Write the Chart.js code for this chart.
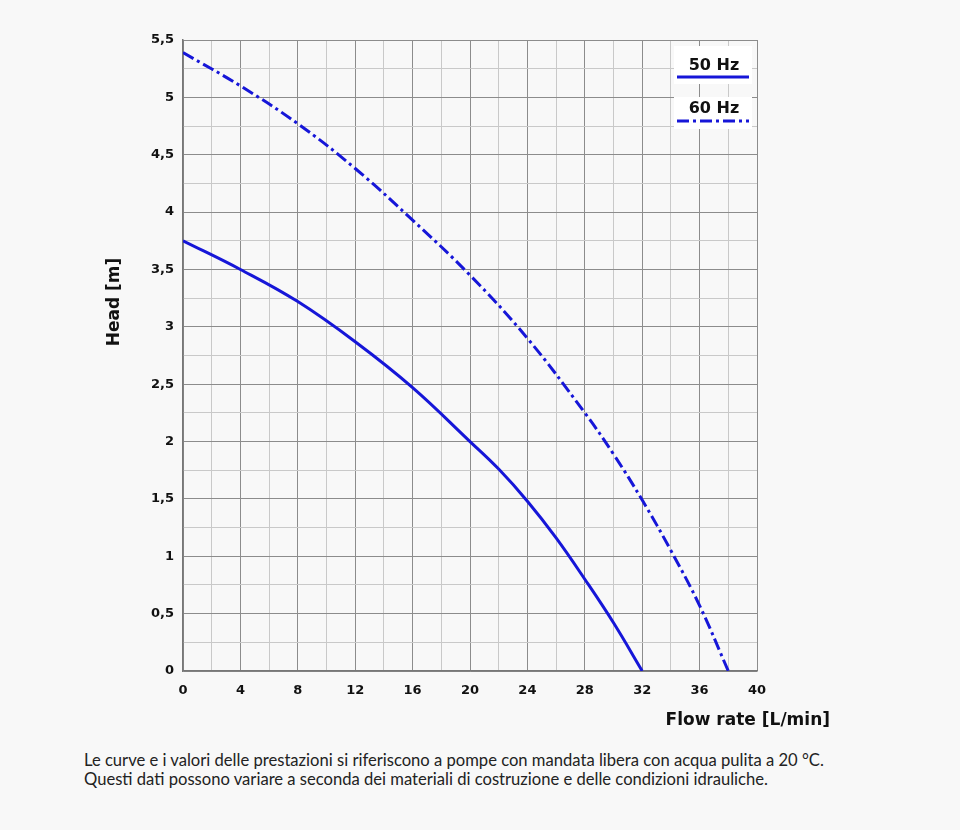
<!DOCTYPE html>
<html>
<head>
<meta charset="utf-8">
<script src="https://cdn.jsdelivr.net/npm/chart.js@4.4.1/dist/chart.umd.min.js"></script>
<style>
  body { margin: 0; background: #f8f8f8; }
  #wrap { position: absolute; left: 0; top: 0; width: 960px; height: 740px; }
  #note { position: absolute; left: 84px; top: 751px; font-family: Lato, sans-serif; font-size: 16.6px; color: #222; line-height: 19px; }
</style>
</head>
<body>
<div id="wrap"><canvas id="pumpChart"></canvas></div>
<div id="note">Le curve e i valori delle prestazioni si riferiscono a pompe con mandata libera con acqua pulita a 20 °C.<br>Questi dati possono variare a seconda dei materiali di costruzione e delle condizioni idrauliche.</div>
<script>
// portata (L/min) e prevalenza (m)
const flow50 = [0, 4, 8, 12, 16, 20, 22, 24, 26, 28, 30, 32];
const head50 = [3.75, 3.5, 3.22, 2.87, 2.47, 2.0, 1.76, 1.48, 1.16, 0.8, 0.42, 0];
const flow60 = [0, 4, 8, 12, 16, 20, 24, 28, 30, 32, 34, 36, 38];
const head60 = [5.39, 5.1, 4.77, 4.38, 3.93, 3.45, 2.9, 2.25, 1.89, 1.49, 1.05, 0.57, 0];
const seriesLabels = ['50 Hz', '60 Hz'];

const toPoints = (xs, ys) => xs.map((x, i) => ({ x: x, y: ys[i] }));
const blue = '#1616d8';

// legenda e titoli assi
const extras = {
  id: 'extras',
  afterDraw(chart) {
    const ctx = chart.ctx;
    ctx.save();
    ctx.fillStyle = '#ffffff';
    ctx.fillRect(674, 46, 78, 38);
    ctx.fillRect(674, 97, 78, 32);
    ctx.fillStyle = '#111';
    ctx.font = 'bold 16px "DejaVu Sans"';
    ctx.textAlign = 'center';
    ctx.textBaseline = 'alphabetic';
    ctx.fillText(seriesLabels[0], 714, 70);
    ctx.fillText(seriesLabels[1], 714, 113);
    ctx.strokeStyle = blue;
    ctx.lineWidth = 3;
    ctx.beginPath(); ctx.moveTo(677, 77); ctx.lineTo(749, 77); ctx.stroke();
    ctx.setLineDash([12, 4, 3, 4]);
    ctx.beginPath(); ctx.moveTo(677, 121); ctx.lineTo(749, 121); ctx.stroke();
    ctx.setLineDash([]);

    ctx.font = 'bold 17px "DejaVu Sans"';
    ctx.textAlign = 'right';
    ctx.fillText('Flow rate [L/min]', 830, 725);
    ctx.translate(119, 302);
    ctx.rotate(-Math.PI / 2);
    ctx.textAlign = 'center';
    ctx.fillText('Head [m]', 0, 0);
    ctx.restore();
  }
};

const fmt = v => String(v).replace('.', ',');

new Chart(document.getElementById('pumpChart'), {
  type: 'line',
  data: {
    datasets: [{
      label: seriesLabels[0],
      data: toPoints(flow50, head50),
      borderColor: blue,
      borderWidth: 3,
      pointRadius: 0,
      tension: 0.4
    }, {
      label: seriesLabels[1],
      data: toPoints(flow60, head60),
      borderColor: blue,
      borderWidth: 3,
      borderDash: [12, 4, 3, 4],
      pointRadius: 0,
      tension: 0.4
    }]
  },
  options: {
    responsive: true,
    maintainAspectRatio: false,
    animation: false,
    layout: { padding: { left: 0, right: 203, top: 40, bottom: 0 } },
    plugins: { legend: { display: false }, tooltip: { enabled: false } },
    scales: {
      x: {
        type: 'linear',
        min: 0, max: 40,
        border: { color: '#777', width: 1.5 },
        grid: {
          drawTicks: false,
          color: c => (c.tick.value % 4 === 0 ? '#8c8c8c' : '#c9c9c9')
        },
        ticks: {
          stepSize: 2,
          padding: 12,
          color: '#111',
          font: { family: 'DejaVu Sans', weight: 'bold', size: 13 },
          callback: v => (v % 4 === 0 ? v : '')
        },
        afterFit: s => { s.height = 69; }
      },
      y: {
        min: 0, max: 5.5,
        border: { color: '#777', width: 1.5 },
        grid: {
          drawTicks: false,
          color: c => (Math.round(c.tick.value * 100) % 50 === 0 ? '#8c8c8c' : '#c9c9c9')
        },
        ticks: {
          stepSize: 0.25,
          padding: 9,
          color: '#111',
          font: { family: 'DejaVu Sans', weight: 'bold', size: 13 },
          callback: v => (Math.round(v * 100) % 50 === 0 ? fmt(v) : '')
        },
        afterFit: s => { s.width = 183; }
      }
    }
  },
  plugins: [extras]
});
</script>
</body>
</html>
